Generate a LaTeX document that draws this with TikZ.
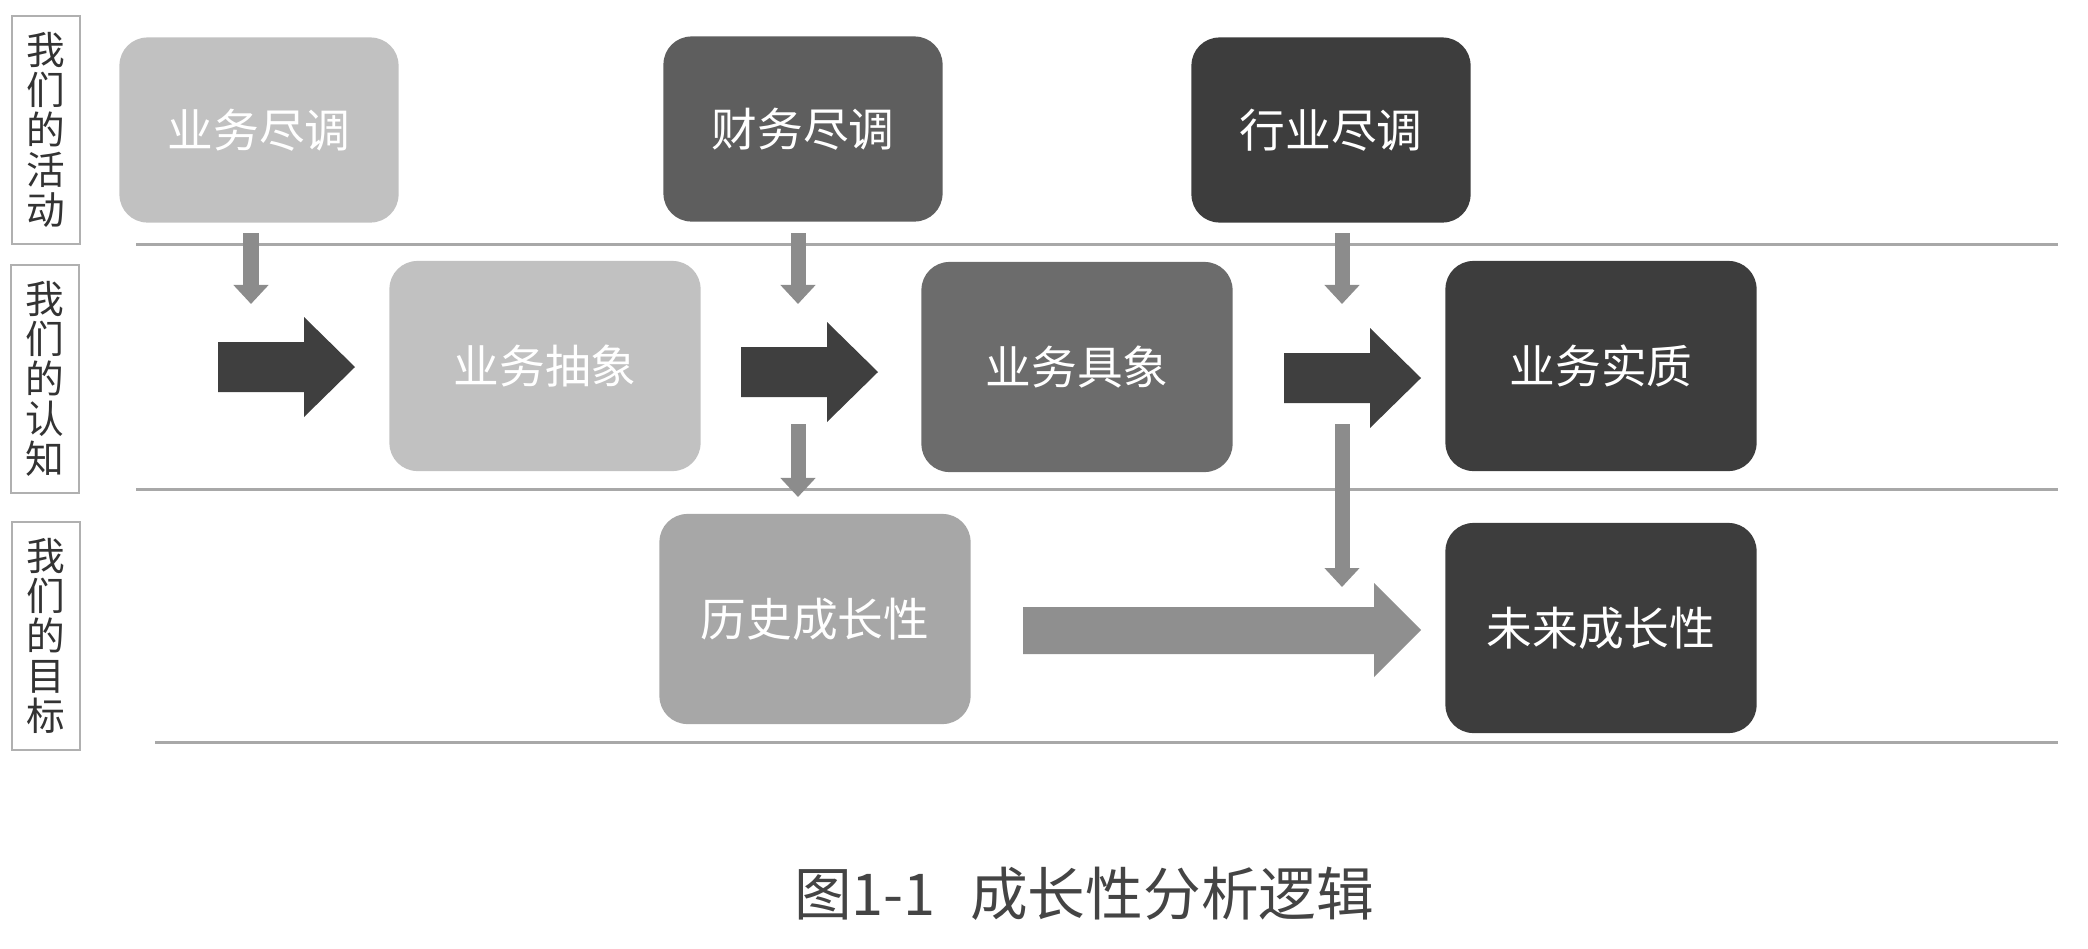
\documentclass[tikz,border=0pt]{standalone}
\usepackage{fontspec}
\setmainfont{Noto Sans CJK SC}
\usetikzlibrary{arrows.meta}

\definecolor{lightbox}{HTML}{C1C1C1}
\definecolor{midbox}{HTML}{5E5E5E}
\definecolor{concretebox}{HTML}{6C6C6C}
\definecolor{darkbox}{HTML}{3D3D3D}
\definecolor{pastbox}{HTML}{A7A7A7}
\definecolor{darkarrow}{HTML}{3F3F3F}
\definecolor{lightarrow}{HTML}{8F8F8F}
\definecolor{arrowgray}{HTML}{8C8C8C}
\definecolor{linegray}{HTML}{A8A8A8}
\definecolor{labelgray}{HTML}{B0B0B0}
\definecolor{labeltext}{HTML}{333333}
\definecolor{captiontext}{HTML}{444444}

\begin{document}
\begin{tikzpicture}[x=0.01cm,y=-0.01cm,
  box/.style={rounded corners=0.28cm, minimum width=3.11cm, minimum height=2.1cm,
              inner sep=0pt, text=white, font=\fontsize{13}{15}\selectfont},
  topbox/.style={box, minimum width=2.79cm, minimum height=1.85cm},
  rowlabel/.style={draw=labelgray, line width=0.02cm, minimum width=0.68cm,
                   minimum height=2.28cm, inner sep=0pt, align=center,
                   text=labeltext, font=\fontsize{11}{11.4}\selectfont},
  rowline/.style={draw=linegray, line width=0.03cm},
  thinarrow/.style={draw=arrowgray, line width=0.15cm,
                    -{Triangle[width=0.34cm,length=0.19cm]}}]
\def\fatarrowpath{-- ++(86,0) -- ++(0,-25) -- ++(51,50) -- ++(-51,50) -- ++(0,-25) -- ++(-86,0) -- cycle}

\useasboundingbox (0,0) rectangle (2088,948);

% row labels
\node[rowlabel] (lblact)  at (46,130) {我\\们\\的\\活\\动};
\node[rowlabel] (lblcog)  at (45,379) {我\\们\\的\\认\\知};
\node[rowlabel] (lblgoal) at (46,636) {我\\们\\的\\目\\标};

% row separators
\draw[rowline] (136,244) -- (2058,244);
\draw[rowline] (136,489) -- (2058,489);
\draw[rowline] (155,742) -- (2058,742);

% activities
\node[topbox, fill=lightbox] (bizdd) at (259,130)  {业务尽调};
\node[topbox, fill=midbox]   (findd) at (803,129)  {财务尽调};
\node[topbox, fill=darkbox]  (inddd) at (1331,130) {行业尽调};

% cognition
\node[box, fill=lightbox]    (abstract) at (545,366)  {业务抽象};
\node[box, fill=concretebox] (concrete) at (1077,367) {业务具象};
\node[box, fill=darkbox]     (essence)  at (1601,366) {业务实质};

% goals
\node[box, fill=pastbox] (pastgrowth)   at (815,619)  {历史成长性};
\node[box, fill=darkbox] (futuregrowth) at (1601,628) {未来成长性};

% big arrows
\fill[darkarrow] (218,342)  \fatarrowpath;
\fill[darkarrow] (741,347)  \fatarrowpath;
\fill[darkarrow] (1284,353) \fatarrowpath;
\fill[lightarrow] (1023,607) -- (1374,607) -- (1374,583) -- (1421,630)
                  -- (1374,677) -- (1374,654) -- (1023,654) -- cycle;

% small arrows
\coordinate (bizdd-out) at (251,233);
\coordinate (bizdd-in)  at (251,304);
\coordinate (findd-out) at (798,233);
\coordinate (findd-in)  at (798,304);
\coordinate (inddd-out) at (1342,233);
\coordinate (inddd-in)  at (1342,304);
\coordinate (past-out)  at (798,424);
\coordinate (past-in)   at (798,497);
\coordinate (future-out) at (1342,424);
\coordinate (future-in)  at (1342,587);

\draw[thinarrow] (bizdd-out) -- (bizdd-in);
\draw[thinarrow] (findd-out) -- (findd-in);
\draw[thinarrow] (inddd-out) -- (inddd-in);
\draw[thinarrow] (past-out) -- (past-in);
\draw[thinarrow] (future-out) -- (future-in);

% caption
\node[text=captiontext, font=\fontsize{16.4}{18}\selectfont] (caption) at (1084,894)
  {图1-1\hspace{0.6em}成长性分析逻辑};
\end{tikzpicture}
\end{document}
